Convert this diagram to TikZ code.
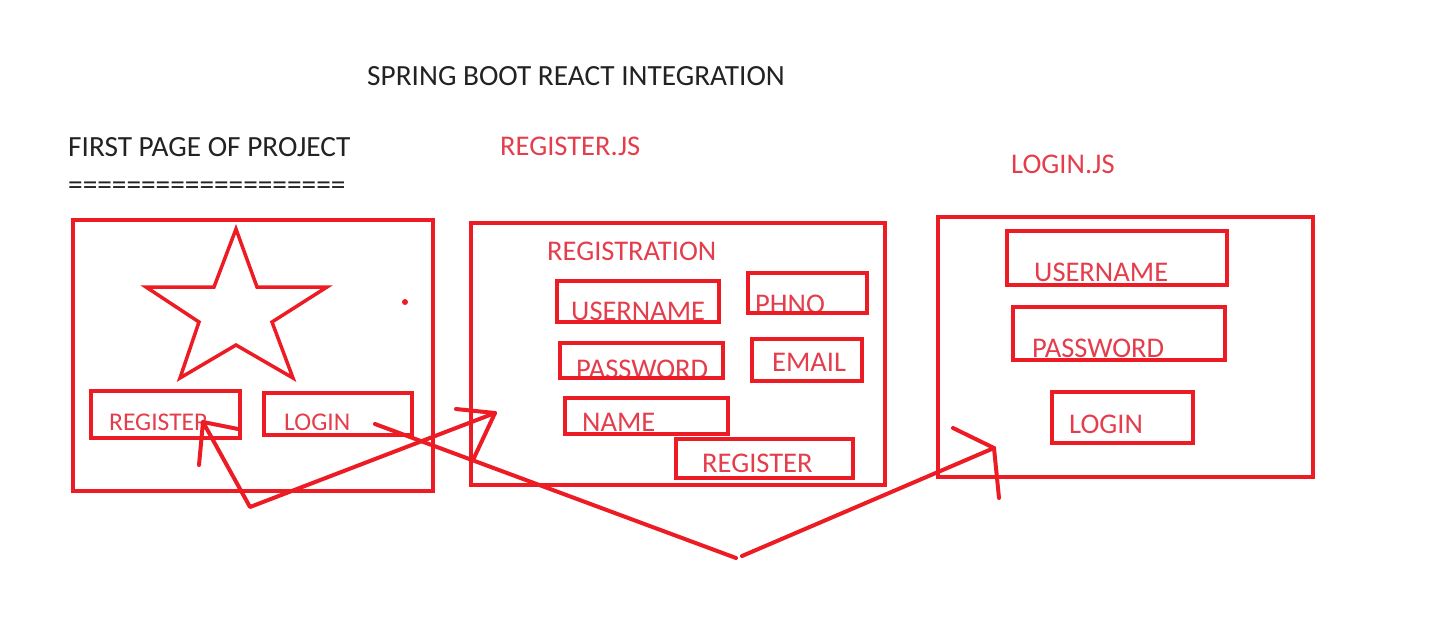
\documentclass[tikz,border=0pt]{standalone}
\usepackage{fontspec}
\setmainfont{Carlito}
\usepackage{tikz}
\usetikzlibrary{fit}
\definecolor{penred}{HTML}{ED1C24}
\definecolor{inkred}{HTML}{E43D4B}
\definecolor{titleink}{HTML}{222222}

\begin{document}
\begin{tikzpicture}[x=1pt,y=-1pt,
  font=\fontsize{28.5}{34}\selectfont,
  page/.style={draw=penred,line width=4pt,inner sep=0pt},
  field/.style={draw=penred,line width=4pt,inner sep=0pt},
  lbl/.style={anchor=base west,inner sep=0pt,text=inkred},
  head/.style={anchor=base west,inner sep=0pt,text=titleink,font=\fontsize{29.3}{34}\selectfont},
  pen/.style={draw=penred,line width=4pt,line cap=round,line join=round}]
  \useasboundingbox (0,0) rectangle (1443,633);
  % headings
  \node[head] (title) at (367,85) {SPRING BOOT REACT INTEGRATION};
  \node[head] (first) at (68,156) {FIRST PAGE OF PROJECT};
  \node[head] (rule) at (68,194) {===================};
  \node[lbl] (regjs) at (500,155) {REGISTER.JS};
  \node[lbl] (loginjs) at (1011,173) {LOGIN.JS};
  % pages
  \node[page,fit={(73,220) (433,491)}] (home) {};
  \node[page,fit={(471,223) (885,485)}] (register) {};
  \node[page,fit={(938,217) (1313,477)}] (login) {};
  \draw[penred,line width=3.5pt] (236,229) -- (214,287) -- (146,287) -- (199,322) -- (180,378) -- (236,345)
    -- (293,378) -- (272,322) -- (327,287) -- (257,287) -- cycle;
  \fill[penred] (405,302) circle (3);
  \node[lbl] (regtitle) at (547,260) {REGISTRATION};
  % fields (text cut off by the box)
  \foreach \n/\xa/\ya/\xb/\yb/\tx/\ty/\s/\t in {
      regbtn/91/391/240/438/109/430/25.5/REGISTER, loginbtn/264/393/412/435/284/430/25.5/LOGIN,
      ruser/557/281/719/322/571/320/28.5/USERNAME, rphno/748/273/867/313/755/313/28.5/PHNO,
      rpass/560/343/723/378/576/378/28.5/PASSWORD, remail/752/339/862/381/772/371/28.5/EMAIL,
      rname/565/398/728/434/582/431/28.5/NAME, rbtn/676/439/853/478/702/472/28.5/REGISTER,
      luser/1007/231/1227/285/1034/281/28.5/USERNAME, lpass/1013/307/1225/360/1032/357/28.5/PASSWORD,
      lbtn/1052/392/1193/443/1069/433/28.5/LOGIN} {
    \begin{scope}
      \clip (\xa,\ya) rectangle (\xb,\yb);
      \node[lbl,font=\fontsize{\s}{\s}\selectfont] (t\n) at (\tx,\ty) {\t};
    \end{scope}
    \node[field,fit={(\xa,\ya) (\xb,\yb)}] (\n) {};
  }
  % hand drawn arrows
  \coordinate (v1) at (250,507);
  \coordinate (v2) at (736,558);
  \coordinate (v3) at (742,556);
  \coordinate (hit) at (203,422);
  \coordinate (into) at (495,413);
  \coordinate (from) at (375,424);
  \coordinate (onto) at (994,448);
  \draw[pen] (hit) -- (v1) -- (into);
  \draw[pen] (hit) -- +(35,7) (hit) -- +(-4,43);
  \draw[pen] (into) -- +(-39,-4) (into) -- +(-22,47);
  \draw[pen] (from) -- (v2) (v3) -- (onto);
  \draw[pen] (onto) -- +(-41,-20) (onto) -- +(5,50);
\end{tikzpicture}
\end{document}
